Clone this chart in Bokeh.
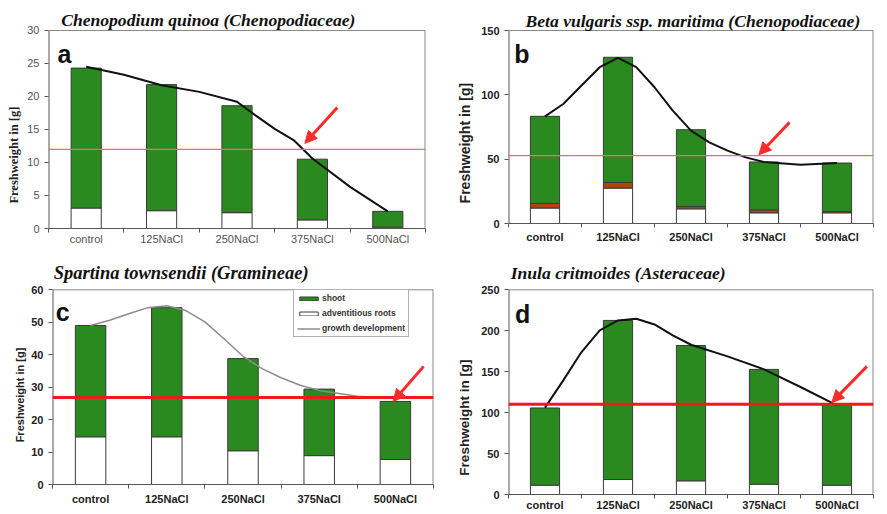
from bokeh.plotting import figure
from bokeh.layouts import column, row
from bokeh.models import (Range1d, FixedTicker, Span, Arrow, NormalHead, Label,
                          Legend, LegendItem)
from bokeh.embed import file_html
from bokeh.resources import INLINE

categories = ["control", "125NaCl", "250NaCl", "375NaCl", "500NaCl"]
xpos = [0, 1, 2, 3, 4]

# Panel a - Chenopodium quinoa
a_roots = [3.1, 2.7, 2.4, 1.3, 0.2]
a_shoot = [21.2, 19.1, 16.2, 9.2, 2.4]
a_curve_x = [0, 0.5, 1, 1.5, 2, 2.25, 2.5, 2.75, 3, 3.5, 4]
a_curve_y = [24.5, 23.3, 21.7, 20.7, 19.2, 17.1, 15.1, 13.4, 10.6, 6.3, 2.6]
a_threshold = 12.0

# Panel b - Beta vulgaris ssp. maritima
b_roots = [12.0, 27.5, 11.4, 8.3, 8.3]
b_taproot = [3.6, 4.4, 1.8, 2.3, 1.0]
b_shoot = [67.7, 97.3, 59.7, 37.2, 37.7]
b_curve_x = [0, 0.25, 0.5, 0.75, 1, 1.25, 1.5, 1.75, 2, 2.25, 2.5, 2.75, 3, 3.5, 4]
b_curve_y = [83.3, 92.9, 107.2, 121.5, 128.7, 121.5, 105.9, 87.7, 72.2, 63.1, 56.6, 51.4, 47.8, 45.7, 47.0]
b_threshold = 52.7

# Panel c - Spartina townsendii
c_roots = [14.7, 14.7, 10.4, 8.9, 7.7]
c_shoot = [34.3, 39.8, 28.4, 20.5, 17.9]
c_curve_x = [0, 0.25, 0.5, 0.75, 1, 1.25, 1.5, 1.75, 2, 2.25, 2.5, 2.75, 3, 3.5, 4]
c_curve_y = [49.0, 50.6, 52.6, 54.5, 55.1, 53.6, 50.1, 44.9, 39.5, 35.7, 32.9, 30.6, 29.0, 27.2, 26.5]
c_threshold = 26.8

# Panel d - Inula critmoides
d_roots = [11.4, 18.3, 16.7, 12.6, 11.4]
d_shoot = [94.3, 194.3, 165.3, 140.2, 98.4]
d_curve_x = [0, 0.25, 0.5, 0.75, 1, 1.25, 1.5, 1.75, 2, 2.5, 3, 3.5, 4]
d_curve_y = [106.1, 139.4, 174.0, 200.4, 212.6, 214.6, 207.7, 194.3, 182.9, 168.7, 152.8, 131.3, 108.9]
d_threshold = 110.2

titles = ["Chenopodium quinoa (Chenopodiaceae)",
          "Beta vulgaris ssp. maritima (Chenopodiaceae)",
          "Spartina townsendii (Gramineae)",
          "Inula critmoides (Asteraceae)"]
y_label = "Freshweight in [g]"

GREEN = "#2b8a1f"
BROWN = "#b3420c"
EDGE = "#3a3a3a"
RED = "#ff2a2a"
BAR_W = 0.4
NBSP = "\u00a0"


def make_panel(w, h, bl, br, bb, ymax, ytop, ystep, bold_ticks, ylab_font,
               ylab_size, ylab_pad, x_standoff, ylab_standoff):
    # the plot area reaches up to the top edge so that the title can sit inside it;
    # the visible box is drawn at 0..ymax
    p = figure(width=w, height=h, x_range=Range1d(-0.5, 4.5), y_range=Range1d(0, ytop),
               output_backend="svg", toolbar_location=None, frame_align=False,
               min_border_left=bl, min_border_right=br, min_border_top=0,
               min_border_bottom=bb)
    p.xgrid.visible = False
    p.ygrid.visible = False
    p.outline_line_color = None
    p.background_fill_color = "white"
    p.border_fill_color = "white"

    p.segment(x0=[-0.5], y0=[0], x1=[-0.5], y1=[ymax], line_color="#555555", line_width=2)
    p.segment(x0=[4.5, -0.5], y0=[0, ymax], x1=[4.5, 4.5], y1=[ymax, ymax],
              line_color="#8a8a8a", line_width=[2, 1])

    xa = p.xaxis[0]
    xa.ticker = FixedTicker(ticks=xpos, minor_ticks=[-0.5, 0.5, 1.5, 2.5, 3.5, 4.5])
    xa.major_label_overrides = {i: c for i, c in zip(xpos, categories)}
    xa.major_tick_line_color = None
    xa.major_tick_out = 4
    xa.major_tick_in = 0
    xa.minor_tick_line_color = "#555555"
    xa.minor_tick_out = 4
    xa.minor_tick_in = 0
    xa.axis_line_color = "#555555"
    xa.major_label_standoff = x_standoff

    ya = p.yaxis[0]
    ya.ticker = FixedTicker(ticks=list(range(0, ymax + 1, ystep)))
    ya.minor_tick_line_color = None
    ya.major_tick_in = 0
    ya.major_tick_out = 4
    ya.major_tick_line_color = "#555555"
    ya.axis_line_color = None
    # trailing no-break spaces shift the centred label toward the bottom, as in the original
    ya.axis_label = y_label + NBSP * ylab_pad
    ya.axis_label_text_font_style = "bold"
    ya.axis_label_standoff = ylab_standoff
    ya.major_label_standoff = 5
    ya.axis_label_text_font = ylab_font
    ya.axis_label_text_font_size = ylab_size
    ya.axis_label_text_color = "#222222"

    for ax in (xa, ya):
        ax.major_label_text_font = "Liberation Sans"
        ax.major_label_text_font_size = "11px"
        if bold_ticks:
            ax.major_label_text_font_style = "bold"
            ax.major_label_text_color = "#222222"
        else:
            ax.major_label_text_color = "#555555"
    return p


def stacked(p, parts, colors):
    bottom = [0.0] * len(xpos)
    rends = []
    for vals, col in zip(parts, colors):
        top = [b + v for b, v in zip(bottom, vals)]
        r = p.vbar(x=xpos, bottom=bottom, top=top, width=BAR_W, fill_color=col,
                   line_color=EDGE, line_width=1)
        rends.append(r)
        bottom = top
    return rends


def title_label(p, txt, x, y, size):
    p.add_layout(Label(x=x, y=y, text=txt, text_font="Liberation Serif",
                       text_font_style="bold italic", text_font_size=size,
                       text_color="#111111", text_baseline="alphabetic", text_align="left"))


def letter(p, txt, x, y):
    p.add_layout(Label(x=x, y=y, text=txt, text_font="Liberation Sans",
                       text_font_style="bold", text_font_size="25px",
                       text_color="#111111", text_baseline="alphabetic"))


def arrow(p, x0, y0, x1, y1):
    p.add_layout(Arrow(end=NormalHead(size=12, fill_color=RED, line_color=RED),
                       x_start=x0, y_start=y0, x_end=x1, y_end=y1,
                       line_color=RED, line_width=3))


# ---- a ----
pa = make_panel(440, 250, 48, 15, 22, 30, 34.545, 5, False, "Liberation Serif",
                "12.5px", 26, 0, 3)
stacked(pa, [a_roots, a_shoot], ["white", GREEN])
pa.add_layout(Span(location=a_threshold, dimension="width", line_color="#ff6666", line_width=1.3))
pa.line(a_curve_x, a_curve_y, line_color="#111111", line_width=2)
arrow(pa, 3.33, 18.35, 2.90, 12.9)
letter(pa, "a", -0.38, 26.5)
title_label(pa, titles[0], -0.332, 31.59, "17.6px")

# ---- b ----
pb = make_panel(447, 250, 68, 14, 27, 150, 173.32, 50, True, "Liberation Sans",
                "14px", 16, 3, 5)
stacked(pb, [b_roots, b_taproot, b_shoot], ["white", BROWN, GREEN])
pb.add_layout(Span(location=b_threshold, dimension="width", line_color="#ff6666", line_width=1.3))
pb.line(b_curve_x, b_curve_y, line_color="#111111", line_width=2)
arrow(pb, 3.35, 78.6, 2.93, 53.5)
letter(pb, "b", -0.42, 131.8)
title_label(pb, titles[1], -0.267, 157.4, "17.6px")

# ---- c ----
pc = make_panel(440, 264, 52, 7, 30, 60, 72.11, 10, True, "Liberation Sans",
                "11px", 18, 4, 2)
rc = stacked(pc, [c_roots, c_shoot], ["white", GREEN])
pc.add_layout(Span(location=c_threshold, dimension="width", line_color="#f01a1a", line_width=3))
lc = pc.line(c_curve_x, c_curve_y, line_color="#8c8c8c", line_width=1.5)
arrow(pc, 4.37, 36.4, 3.97, 25.6)
letter(pc, "c", -0.456, 53.1)
title_label(pc, titles[2], -0.485, 65.18, "18.5px")
legend = Legend(items=[LegendItem(label="shoot", renderers=[rc[1]]),
                       LegendItem(label="adventitious roots", renderers=[rc[0]]),
                       LegendItem(label="growth development", renderers=[lc])],
                location=(241, 147), margin=0, padding=3, spacing=5,
                glyph_width=23, glyph_height=5, label_height=10, label_standoff=2,
                label_text_font="Liberation Sans", label_text_font_style="bold",
                label_text_font_size="8.5px", label_text_color="#333333",
                border_line_color="#666666", border_line_width=1,
                background_fill_color="white", background_fill_alpha=1)
pc.add_layout(legend)

# ---- d ----
pd_ = make_panel(447, 264, 68, 14, 20, 250, 298.0, 50, True, "Liberation Sans",
                 "13.5px", 24, 0, 6)
stacked(pd_, [d_roots, d_shoot], ["white", GREEN])
pd_.add_layout(Span(location=d_threshold, dimension="width", line_color="#f01a1a", line_width=3))
pd_.line(d_curve_x, d_curve_y, line_color="#111111", line_width=2)
arrow(pd_, 4.41, 156.5, 3.93, 112.5)
letter(pd_, "d", -0.41, 220.7)
title_label(pd_, titles[3], -0.47, 270.5, "17.6px")

layout = column(row(pa, pb), row(pc, pd_))
open("out.html", "w").write(file_html(layout, INLINE))
